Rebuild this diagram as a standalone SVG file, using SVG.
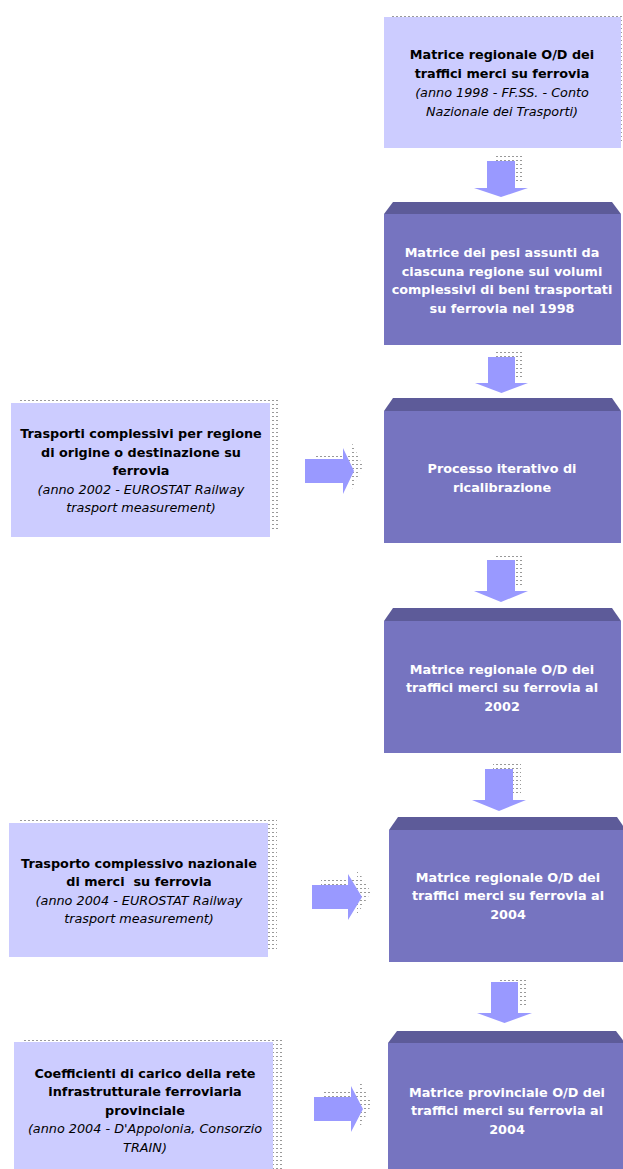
<svg xmlns="http://www.w3.org/2000/svg" width="623" height="1169" viewBox="0 0 623 1169">
<style>
.light{fill:#CCCCFF}
.body{fill:#7674C0}
.top{fill:#5D5B99}
.arrow{fill:#9999FF}
.shadow{fill:url(#dots)}
text{font-family:"DejaVu Sans",Verdana,sans-serif;font-size:12.8px;text-anchor:middle}
.b{font-weight:bold}
.i{font-style:italic}
.dk{fill:#000}
.wt{fill:#fff;font-weight:bold}
</style>
<defs>
<pattern id="dots" width="4" height="4" patternUnits="userSpaceOnUse">
<rect x="0" y="0" width="2" height="1" fill="#999"/>
</pattern>
</defs>
<rect width="623" height="1169" fill="#fff"/>

<g id="connectors">
<polygon class="shadow" points="495,156 523,156 523,183 495,183"/>
<polygon class="arrow" points="487,161 515,161 515,188 528,188 501,197 474,188 487,188"/>
<polygon class="shadow" points="496,352 523,352 523,378 496,378"/>
<polygon class="arrow" points="488,357 515,357 515,383 528,383 501.5,393 475,383 488,383"/>
<polygon class="shadow" points="495,555 523,555 523,586 495,586"/>
<polygon class="arrow" points="487,560 515,560 515,591 528,591 501,602 474,591 487,591"/>
<polygon class="shadow" points="493,764 521,764 521,795 493,795"/>
<polygon class="arrow" points="485,769 513,769 513,800 526,800 499,811 472,800 485,800"/>
<polygon class="shadow" points="499,977 526,977 526,1008 499,1008"/>
<polygon class="arrow" points="491,982 518,982 518,1013 532,1013 504.5,1023 477,1013 491,1013"/>

<polygon class="shadow" points="314,454 352,454 352,443 363,466 352,489 352,478 314,478"/>
<polygon class="arrow" points="305,459 343,459 343,448 354,471 343,494 343,483 305,483"/>
<polygon class="shadow" points="321,880 357,880 357,869 371,892 357,915 357,904 321,904"/>
<polygon class="arrow" points="312,885 348,885 348,874 362,897 348,920 348,909 312,909"/>
<polygon class="shadow" points="323,1092 360,1092 360,1081 372,1104 360,1127 360,1116 323,1116"/>
<polygon class="arrow" points="314,1097 351,1097 351,1086 363,1109 351,1132 351,1121 314,1121"/>
</g>

<g id="n1">
<rect class="shadow" x="392" y="13" width="237" height="131"/>
<rect class="light" x="384" y="17" width="237" height="131"/>
<text class="dk b" x="502" y="59">Matrice regionale O/D dei</text>
<text class="dk b" x="502" y="78">traffici merci su ferrovia</text>
<text class="dk i" x="502" y="97">(anno 1998 - FF.SS. - Conto</text>
<text class="dk i" x="502" y="116">Nazionale dei Trasporti)</text>
</g>

<g id="n2">
<polygon class="top" points="384,214 393,202 612,202 621,214"/>
<rect class="body" x="384" y="214" width="237" height="131"/>
<text class="wt" x="502" y="257">Matrice dei pesi assunti da</text>
<text class="wt" x="502" y="275.5">ciascuna regione sui volumi</text>
<text class="wt" x="502" y="294">complessivi di beni trasportati</text>
<text class="wt" x="502" y="312.5">su ferrovia nel 1998</text>
</g>

<g id="n3">
<polygon class="top" points="384,411 393,398 612,398 621,411"/>
<rect class="body" x="384" y="411" width="237" height="132"/>
<text class="wt" x="502" y="472.5">Processo iterativo di</text>
<text class="wt" x="502" y="491.5">ricalibrazione</text>
</g>

<g id="n4">
<polygon class="top" points="384,621 393,608 612,608 621,621"/>
<rect class="body" x="384" y="621" width="237" height="132"/>
<text class="wt" x="502" y="674">Matrice regionale O/D dei</text>
<text class="wt" x="502" y="692">traffici merci su ferrovia al</text>
<text class="wt" x="502" y="710.5">2002</text>
</g>

<g id="n5">
<polygon class="top" points="389,830 398,817 617,817 626,830"/>
<rect class="body" x="389" y="830" width="237" height="132"/>
<text class="wt" x="508" y="881.5">Matrice regionale O/D dei</text>
<text class="wt" x="508" y="900">traffici merci su ferrovia al</text>
<text class="wt" x="508" y="918.5">2004</text>
</g>

<g id="n6">
<polygon class="top" points="388,1043 397,1031 616,1031 625,1043"/>
<rect class="body" x="388" y="1043" width="237" height="132"/>
<text class="wt" x="507" y="1096.5">Matrice provinciale O/D dei</text>
<text class="wt" x="507" y="1115">traffici merci su ferrovia al</text>
<text class="wt" x="507" y="1133.5">2004</text>
</g>

<g id="l1">
<rect class="shadow" x="19" y="399" width="259" height="130"/>
<rect class="light" x="11" y="403" width="259" height="134"/>
<text class="dk b" x="141" y="437.5">Trasporti complessivi per regione</text>
<text class="dk b" x="141" y="456.5">di origine o destinazione su</text>
<text class="dk b" x="141" y="474.5">ferrovia</text>
<text class="dk i" x="141" y="493.5">(anno 2002 - EUROSTAT Railway</text>
<text class="dk i" x="141" y="511.5">trasport measurement)</text>
</g>

<g id="l2">
<rect class="shadow" x="18" y="819" width="259" height="130"/>
<rect class="light" x="9" y="823" width="259" height="134"/>
<text class="dk b" x="139" y="867.5">Trasporto complessivo nazionale</text>
<text class="dk b" x="139" y="886" xml:space="preserve">di merci  su ferrovia</text>
<text class="dk i" x="139" y="904.5">(anno 2004 - EUROSTAT Railway</text>
<text class="dk i" x="139" y="922.5">trasport measurement)</text>
</g>

<g id="l3">
<rect class="shadow" x="23" y="1038" width="259" height="134"/>
<rect class="light" x="14" y="1042" width="259" height="134"/>
<text class="dk b" x="145" y="1077.5">Coefficienti di carico della rete</text>
<text class="dk b" x="145" y="1096">infrastrutturale ferroviaria</text>
<text class="dk b" x="145" y="1114.5">provinciale</text>
<text class="dk i" x="145" y="1133">(anno 2004 - D'Appolonia, Consorzio</text>
<text class="dk i" x="145" y="1151.5">TRAIN)</text>
</g>
</svg>
